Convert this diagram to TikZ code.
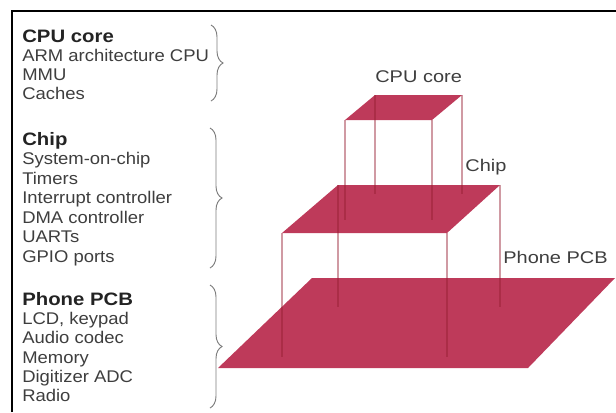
\documentclass[tikz,border=0pt]{standalone}
\usepackage{fontspec}
\setmainfont{Liberation Sans}
\usetikzlibrary{decorations.pathreplacing}
\definecolor{plate}{RGB}{190,58,90}
\definecolor{pin}{RGB}{150,30,50}
\definecolor{txtgray}{RGB}{62,62,62}
\definecolor{txtdark}{RGB}{35,35,35}
\definecolor{bracegray}{RGB}{125,125,125}
\tikzset{
  lefttxt/.style={anchor=base west, inner sep=0pt, text=txtgray, font=\fontsize{12.7}{14}\selectfont, xscale=1.09},
  lefthead/.style={anchor=base west, inner sep=0pt, text=txtdark, font=\fontsize{13.5}{15}\selectfont\bfseries, xscale=1.13},
  platelabel/.style={anchor=base west, inner sep=0pt, text=txtgray, font=\fontsize{12.7}{14}\selectfont, xscale=1.18},
  platefill/.style={fill=plate, draw=none},
  pinline/.style={draw=pin, opacity=0.45, line width=0.8pt},
  bracestyle/.style={draw=bracegray, line width=0.7pt, decorate, decoration={brace, amplitude=9pt}},
}
\begin{document}
\begin{tikzpicture}[x=0.75pt, y=-0.75pt]
\useasboundingbox (0,0) rectangle (616,412);
% frame
\draw[line width=1.5pt, black] (12,412) -- (12,11) -- (616,11);

% plate corners
\coordinate (pTL) at (312,278); \coordinate (pTR) at (615,278);
\coordinate (pBR) at (528,368); \coordinate (pBL) at (218,368);
\coordinate (cTL) at (338,185); \coordinate (cTR) at (500,185);
\coordinate (cBR) at (447,233); \coordinate (cBL) at (282,233);
\coordinate (uTL) at (375,95);  \coordinate (uTR) at (462,95);
\coordinate (uBR) at (432,120); \coordinate (uBL) at (345,120);
% projections
\coordinate (cBLp) at (282,357); \coordinate (cTLp) at (338,307);
\coordinate (cBRp) at (447,357); \coordinate (cTRp) at (500,307);
\coordinate (uBLp) at (345,220); \coordinate (uTLp) at (375,194);
\coordinate (uBRp) at (432,220); \coordinate (uTRp) at (462,194);

\fill[platefill] (pTL) -- (pTR) -- (pBR) -- (pBL) -- cycle;
\fill[platefill] (cTL) -- (cTR) -- (cBR) -- (cBL) -- cycle;
\fill[platefill] (uTL) -- (uTR) -- (uBR) -- (uBL) -- cycle;

\draw[pinline] (cBL) -- (cBLp);
\draw[pinline] (cTL) -- (cTLp);
\draw[pinline] (cBR) -- (cBRp);
\draw[pinline] (cTR) -- (cTRp);
\draw[pinline] (uBL) -- (uBLp);
\draw[pinline] (uTL) -- (uTLp);
\draw[pinline] (uBR) -- (uBRp);
\draw[pinline] (uTR) -- (uTRp);

% plate labels
\node[platelabel] (lcpu) at (375,82) {CPU core};
\node[platelabel] (lchip) at (465,171) {Chip};
\node[platelabel] (lpcb) at (503,263) {Phone PCB};

% left texts
\node[lefthead] (h1) at (22,42) {CPU core};
\node[lefttxt] (t11) at (22,61) {ARM architecture CPU};
\node[lefttxt] (t12) at (22,80) {MMU};
\node[lefttxt] (t13) at (22,99.5) {Caches};

\node[lefthead] (h2) at (22,145) {Chip};
\node[lefttxt] (t21) at (22,164.5) {System-on-chip};
\node[lefttxt] (t22) at (22,184) {Timers};
\node[lefttxt] (t23) at (22,203.5) {Interrupt controller};
\node[lefttxt] (t24) at (22,223) {DMA controller};
\node[lefttxt] (t25) at (22,242.5) {UARTs};
\node[lefttxt] (t26) at (22,262) {GPIO ports};

\node[lefthead] (h3) at (22,305) {Phone PCB};
\node[lefttxt] (t31) at (22,324) {LCD, keypad};
\node[lefttxt] (t32) at (22,343.5) {Audio codec};
\node[lefttxt] (t33) at (22,363) {Memory};
\node[lefttxt] (t34) at (22,382) {Digitizer ADC};
\node[lefttxt] (t35) at (22,401.5) {Radio};

% braces
\coordinate (b1t) at (211,25);  \coordinate (b1b) at (211,101);
\coordinate (b2t) at (210,128); \coordinate (b2b) at (210,268);
\coordinate (b3t) at (210,285); \coordinate (b3b) at (210,408);
\draw[bracestyle] (b1t) -- (b1b);
\draw[bracestyle] (b2t) -- (b2b);
\draw[bracestyle] (b3t) -- (b3b);
\end{tikzpicture}
\end{document}
